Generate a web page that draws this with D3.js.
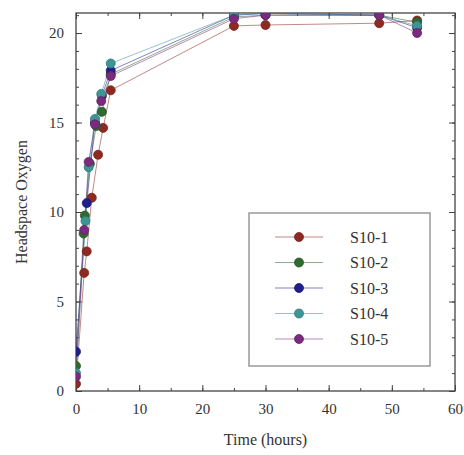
<!DOCTYPE html>
<html>
<head>
<meta charset="utf-8">
<script src="https://cdn.jsdelivr.net/npm/d3@7"></script>
<style>
  html, body { margin: 0; padding: 0; background: #fff; }
  svg { display: block; }
  text { font-family: "Liberation Serif", "DejaVu Serif", serif; fill: #333; }
</style>
</head>
<body>
<svg id="chart" width="464" height="455"></svg>
<script>
// Headspace oxygen over time for five S10 samples
const seriesNames = ["S10-1", "S10-2", "S10-3", "S10-4", "S10-5"];
const seriesColors = ["#8e2a22", "#2f6b30", "#1f1f8c", "#3d9595", "#7b2b7d"];

const timesS1 = [0, 1.3, 1.7, 2.5, 3.5, 4.3, 5.5, 25, 30, 48, 54];
const valuesS1 = [0.4, 6.6, 7.8, 10.8, 13.2, 14.7, 16.8, 20.4, 20.45, 20.55, 20.7];

const timesS2 = [0, 1.2, 1.4, 2.2, 3.2, 4.1, 5.5, 25, 30, 48, 54];
const valuesS2 = [1.4, 8.8, 9.8, 12.7, 14.8, 15.6, 17.7, 20.9, 21.0, 21.0, 20.6];

const timesS3 = [0, 1.7, 3.0, 4.1, 5.5, 25, 30, 48, 54];
const valuesS3 = [2.2, 10.5, 15.0, 16.5, 17.9, 21.0, 21.1, 21.0, 20.3];

const timesS4 = [0, 1.5, 2.0, 3.0, 4.0, 5.5, 25, 30, 48, 54];
const valuesS4 = [1.0, 9.5, 12.5, 15.2, 16.6, 18.3, 21.0, 21.1, 21.0, 20.4];

const timesS5 = [0, 1.3, 2.0, 3.0, 4.0, 5.5, 25, 30, 48, 54];
const valuesS5 = [0.8, 9.0, 12.8, 14.9, 16.2, 17.6, 20.8, 21.0, 21.0, 20.0];

const xTicks = [0, 10, 20, 30, 40, 50, 60];
const yTicks = [0, 5, 10, 15, 20];

const allTimes = [timesS1, timesS2, timesS3, timesS4, timesS5];
const allValues = [valuesS1, valuesS2, valuesS3, valuesS4, valuesS5];
const series = seriesNames.map((name, i) => ({
  name,
  color: seriesColors[i],
  points: allTimes[i].map((t, j) => ({ t, v: allValues[i][j] }))
}));

const margin = { left: 76, right: 9, top: 13, bottom: 64 };
const W = 464, H = 455;
const plotW = W - margin.left - margin.right;
const plotH = H - margin.top - margin.bottom;

const svg = d3.select("#chart");
const g = svg.append("g").attr("transform", `translate(${margin.left},${margin.top})`);

const x = d3.scaleLinear().domain([0, 60]).range([0, plotW]);
const y = d3.scaleLinear().domain([0, 21.12]).range([plotH, 0]);

g.append("clipPath").attr("id", "plotClip")
  .append("rect").attr("width", plotW).attr("height", plotH);

// Axes with inward ticks on all four sides
const xMinor = d3.range(0, 61, 5);
const yMinor = d3.range(0, 22, 1);
const axisColor = "#444";

function styleAxis(sel) {
  sel.select(".domain").remove();
  sel.selectAll(".tick line").attr("stroke", axisColor).attr("stroke-width", 1);
  sel.selectAll(".tick text").style("font-size", "15px").attr("fill", "#333");
}

// minor ticks
g.append("g").attr("transform", `translate(0,${plotH})`)
  .call(d3.axisBottom(x).tickValues(xMinor).tickSize(-3).tickFormat(""))
  .call(styleAxis);
g.append("g")
  .call(d3.axisTop(x).tickValues(xMinor).tickSize(-3).tickFormat(""))
  .call(styleAxis);
g.append("g")
  .call(d3.axisLeft(y).tickValues(yMinor).tickSize(-3).tickFormat(""))
  .call(styleAxis);
g.append("g").attr("transform", `translate(${plotW},0)`)
  .call(d3.axisRight(y).tickValues(yMinor).tickSize(-3).tickFormat(""))
  .call(styleAxis);

// major ticks with labels
g.append("g").attr("transform", `translate(0,${plotH})`)
  .call(d3.axisBottom(x).tickValues(xTicks).tickSize(-6).tickPadding(12).tickFormat(d3.format("d")))
  .call(styleAxis);
g.append("g")
  .call(d3.axisTop(x).tickValues(xTicks).tickSize(-6).tickFormat(""))
  .call(styleAxis);
g.append("g")
  .call(d3.axisLeft(y).tickValues(yTicks).tickSize(-6).tickPadding(12).tickFormat(d3.format("d")))
  .call(styleAxis);
g.append("g").attr("transform", `translate(${plotW},0)`)
  .call(d3.axisRight(y).tickValues(yTicks).tickSize(-6).tickFormat(""))
  .call(styleAxis);

// frame
g.append("rect").attr("width", plotW).attr("height", plotH)
  .attr("fill", "none").attr("stroke", axisColor).attr("stroke-width", 1.3);

// series lines and markers
const line = d3.line().x(d => x(d.t)).y(d => y(d.v));
const data = g.append("g").attr("clip-path", "url(#plotClip)");

series.forEach(s => {
  data.append("path").datum(s.points)
    .attr("d", line)
    .attr("fill", "none")
    .attr("stroke", s.color)
    .attr("stroke-opacity", 0.55)
    .attr("stroke-width", 1);
});
series.forEach(s => {
  data.selectAll(null).data(s.points).enter().append("circle")
    .attr("cx", d => x(d.t)).attr("cy", d => y(d.v)).attr("r", 4.5)
    .attr("fill", s.color)
    .attr("stroke", d3.color(s.color).darker(0.6))
    .attr("stroke-width", 0.8);
});

// axis titles
svg.append("text")
  .attr("x", margin.left + plotW / 2).attr("y", 445)
  .attr("text-anchor", "middle").style("font-size", "16px")
  .text("Time (hours)");
svg.append("text")
  .attr("transform", `translate(27,${margin.top + plotH / 2}) rotate(-90)`)
  .attr("text-anchor", "middle").style("font-size", "16px")
  .text("Headspace Oxygen");

// legend
const legend = svg.append("g").attr("transform", "translate(249,213)");
legend.append("rect").attr("width", 181).attr("height", 153)
  .attr("fill", "#fff").attr("stroke", "#999").attr("stroke-width", 1.5);
series.forEach((s, i) => {
  const ly = 24 + i * 25.5;
  legend.append("line")
    .attr("x1", 26).attr("x2", 74).attr("y1", ly).attr("y2", ly)
    .attr("stroke", s.color).attr("stroke-opacity", 0.55).attr("stroke-width", 1);
  legend.append("circle").attr("cx", 50).attr("cy", ly).attr("r", 4.5)
    .attr("fill", s.color).attr("stroke", d3.color(s.color).darker(0.6)).attr("stroke-width", 0.8);
  legend.append("text").attr("x", 101).attr("y", ly + 5.5)
    .style("font-size", "16px").text(s.name);
});
</script>
</body>
</html>
